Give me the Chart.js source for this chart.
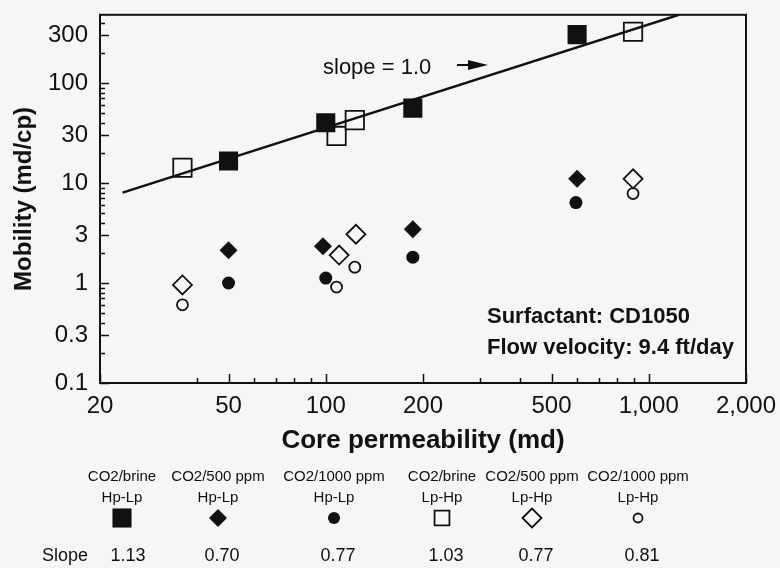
<!DOCTYPE html>
<html>
<head>
<meta charset="utf-8">
<script src="https://cdn.jsdelivr.net/npm/chart.js"></script>
<style>
    html, body { margin: 0; padding: 0; background: #f6f6f6; }
    #wrap { width: 780px; height: 568px; position: relative; }
</style>
</head>
<body>
<div id="wrap"><canvas id="mobilityChart"></canvas></div>
<script>
// Series names (two-line legend labels)
const seriesTop = ["CO2/brine", "CO2/500 ppm", "CO2/1000 ppm", "CO2/brine", "CO2/500 ppm", "CO2/1000 ppm"];
const seriesBottom = ["Hp-Lp", "Hp-Lp", "Hp-Lp", "Lp-Hp", "Lp-Hp", "Lp-Hp"];
const slopeValues = [1.13, 0.70, 0.77, 1.03, 0.77, 0.81];

// Core permeability (md) / mobility (md/cp)
const brineHpLpX = [50, 100, 186, 600];
const brineHpLpY = [16.6, 40, 56, 304];
const ppm500HpLpX = [50, 98, 186, 600];
const ppm500HpLpY = [2.13, 2.33, 3.44, 11.0];
const ppm1000HpLpX = [50, 100, 186, 595];
const ppm1000HpLpY = [1.0, 1.12, 1.81, 6.37];
const brineLpHpX = [36, 108, 123, 894];
const brineLpHpY = [14.2, 29.5, 42.5, 325];
const ppm500LpHpX = [36, 110, 124, 894];
const ppm500LpHpY = [0.955, 1.9, 3.07, 11.0];
const ppm1000LpHpX = [36, 108, 123, 894];
const ppm1000LpHpY = [0.605, 0.91, 1.44, 7.83];

// slope = 1.0 reference line end points
const refLineX = [23.5, 1240];
const refLineY = [8.0, 480];

// Axis ticks
const xTickValues = [20, 50, 100, 200, 500, 1000, 2000];
const xTickLabels = ["20", "50", "100", "200", "500", "1,000", "2,000"];
const xMinorTicks = [40, 60, 70, 80, 90, 300, 400, 600, 700, 800, 900];
const yTickValues = [0.1, 0.3, 1, 3, 10, 30, 100, 300];
const yTickLabels = ["0.1", "0.3", "1", "3", "10", "30", "100", "300"];
const yMinorTicks = [0.2, 0.4, 0.5, 0.6, 0.7, 0.8, 0.9, 2, 4, 5, 6, 7, 8, 9,
                     20, 40, 50, 60, 70, 80, 90, 200, 400];

const BG = "#f6f6f6";
const INK = "#111";

Chart.defaults.font.family = '"Liberation Sans", Arial, sans-serif';
Chart.defaults.color = INK;

function pts(xs, ys) {
    return xs.map((x, i) => ({ x: x, y: ys[i] }));
}

// legend marker sizes differ slightly from the plot ones
const legendRadius = [13.5, 9, 6, 10.5, 9.5, 4.5];

const markerSets = [
    { data: pts(brineHpLpX, brineHpLpY), pointStyle: "rect", pointRadius: 13.5, filled: true },
    { data: pts(ppm500HpLpX, ppm500HpLpY), pointStyle: "rectRot", pointRadius: 9, filled: true },
    { data: pts(ppm1000HpLpX, ppm1000HpLpY), pointStyle: "circle", pointRadius: 6.5, filled: true },
    { data: pts(brineLpHpX, brineLpHpY), pointStyle: "rect", pointRadius: 13, filled: false },
    { data: pts(ppm500LpHpX, ppm500LpHpY), pointStyle: "rectRot", pointRadius: 9.5, filled: false },
    { data: pts(ppm1000LpHpX, ppm1000LpHpY), pointStyle: "circle", pointRadius: 5.5, filled: false },
];

const datasets = [
    {
        type: "line",
        label: "slope = 1.0",
        data: pts(refLineX, refLineY),
        borderColor: INK,
        borderWidth: 2.5,
        pointRadius: 0,
        fill: false,
    },
].concat(markerSets.map((m, i) => ({
    type: "scatter",
    label: seriesTop[i] + " " + seriesBottom[i],
    data: m.data,
    pointStyle: m.pointStyle,
    pointRadius: m.pointRadius,
    pointHoverRadius: m.pointRadius,
    backgroundColor: m.filled ? INK : BG,
    borderColor: INK,
    borderWidth: m.filled ? 0 : 1.8,
})));

// frame, inner tick marks, notes and the custom legend
const decorPlugin = {
    id: "decor",
    afterDatasetsDraw(chart) {
        const ctx = chart.ctx;
        const a = chart.chartArea;
        const xs = chart.scales.x;
        const ys = chart.scales.y;
        ctx.save();
        ctx.strokeStyle = INK;

        // ticks
        ctx.lineWidth = 1.5;
        ctx.beginPath();
        xTickValues.forEach(v => {
            const px = Math.round(xs.getPixelForValue(v)) + 0.5;
            ctx.moveTo(px, a.bottom); ctx.lineTo(px, a.bottom - 9);
        });
        xMinorTicks.forEach(v => {
            const px = Math.round(xs.getPixelForValue(v)) + 0.5;
            ctx.moveTo(px, a.bottom); ctx.lineTo(px, a.bottom - 5);
        });
        yTickValues.forEach(v => {
            const py = Math.round(ys.getPixelForValue(v)) + 0.5;
            ctx.moveTo(a.left, py); ctx.lineTo(a.left + 9, py);
        });
        yMinorTicks.forEach(v => {
            const py = Math.round(ys.getPixelForValue(v)) + 0.5;
            ctx.moveTo(a.left, py); ctx.lineTo(a.left + 5, py);
        });
        ctx.stroke();

        // frame
        ctx.lineWidth = 2;
        ctx.strokeRect(a.left, a.top, a.right - a.left, a.bottom - a.top);

        // slope note and arrow
        ctx.fillStyle = INK;
        ctx.textBaseline = "middle";
        ctx.textAlign = "left";
        ctx.font = '22px "Liberation Sans", Arial, sans-serif';
        ctx.fillText("slope = 1.0", 323, 68);
        ctx.lineWidth = 2;
        ctx.beginPath();
        ctx.moveTo(457, 65); ctx.lineTo(472, 65);
        ctx.stroke();
        ctx.beginPath();
        ctx.moveTo(468, 60); ctx.lineTo(488, 65); ctx.lineTo(468, 70);
        ctx.closePath();
        ctx.fill();

        // conditions
        ctx.font = 'bold 22px "Liberation Sans", Arial, sans-serif';
        ctx.fillText("Surfactant: CD1050", 487, 317);
        ctx.fillText("Flow velocity: 9.4 ft/day", 487, 348);
        ctx.restore();
    },
    afterDraw(chart) {
        const ctx = chart.ctx;
        const cols = [122, 218, 334, 442, 532, 638];
        ctx.save();
        ctx.fillStyle = INK;
        ctx.textBaseline = "middle";
        ctx.textAlign = "center";
        ctx.font = '15px "Liberation Sans", Arial, sans-serif';
        cols.forEach((cx, i) => {
            ctx.fillText(seriesTop[i], cx, 477);
            ctx.fillText(seriesBottom[i], cx, 498);
        });
        markerSets.forEach((m, i) => {
            ctx.fillStyle = m.filled ? INK : BG;
            ctx.strokeStyle = INK;
            ctx.lineWidth = m.filled ? 0 : 1.8;
            Chart.helpers.drawPoint(ctx, {
                pointStyle: m.pointStyle,
                radius: legendRadius[i],
                rotation: 0,
                borderWidth: m.filled ? 0 : 1.8,
            }, cols[i], 518);
        });
        ctx.fillStyle = INK;
        ctx.font = '18px "Liberation Sans", Arial, sans-serif';
        ctx.textAlign = "left";
        ctx.fillText("Slope", 42, 556);
        ctx.textAlign = "center";
        slopeValues.forEach((s, i) => {
            ctx.fillText(s.toFixed(2), cols[i] + (i === 0 ? 6 : 4), 556);
        });
        ctx.restore();
    },
};

new Chart(document.getElementById("mobilityChart"), {
    data: { datasets: datasets },
    options: {
        responsive: true,
        maintainAspectRatio: false,
        animation: false,
        devicePixelRatio: 1,
        layout: { padding: { top: 11, right: 34, left: 0, bottom: 0 } },
        plugins: {
            legend: { display: false },
            tooltip: { enabled: false },
        },
        scales: {
            x: {
                type: "logarithmic",
                min: 20,
                max: 2000,
                grid: { display: false, drawTicks: false },
                border: { display: false },
                afterBuildTicks: (s) => { s.ticks = xTickValues.map(v => ({ value: v })); },
                afterFit: (s) => { s.height = 185; s.paddingLeft = 0; s.paddingRight = 0; },
                ticks: {
                    autoSkip: false,
                    maxRotation: 0,
                    padding: 9,
                    font: { size: 24 },
                    color: INK,
                    callback: (v) => {
                        const i = xTickValues.indexOf(v);
                        return i >= 0 ? xTickLabels[i] : "";
                    },
                },
                title: {
                    display: true,
                    text: "Core permeability (md)",
                    font: { size: 26, weight: "bold" },
                    color: INK,
                    padding: { top: 0, bottom: 112 },
                },
            },
            y: {
                type: "logarithmic",
                min: 0.1,
                max: 480,
                grid: { display: false, drawTicks: false },
                border: { display: false },
                afterBuildTicks: (s) => { s.ticks = yTickValues.map(v => ({ value: v })); },
                afterFit: (s) => { s.width = 100; s.paddingTop = 0; s.paddingBottom = 0; },
                ticks: {
                    autoSkip: false,
                    padding: 12,
                    font: { size: 24 },
                    color: INK,
                    callback: (v) => {
                        const i = yTickValues.indexOf(v);
                        return i >= 0 ? yTickLabels[i] : "";
                    },
                },
                title: {
                    display: true,
                    text: "Mobility (md/cp)",
                    font: { size: 24, weight: "bold" },
                    color: INK,
                    padding: { top: 10, bottom: 0 },
                },
            },
        },
    },
    plugins: [decorPlugin],
});
</script>
</body>
</html>
